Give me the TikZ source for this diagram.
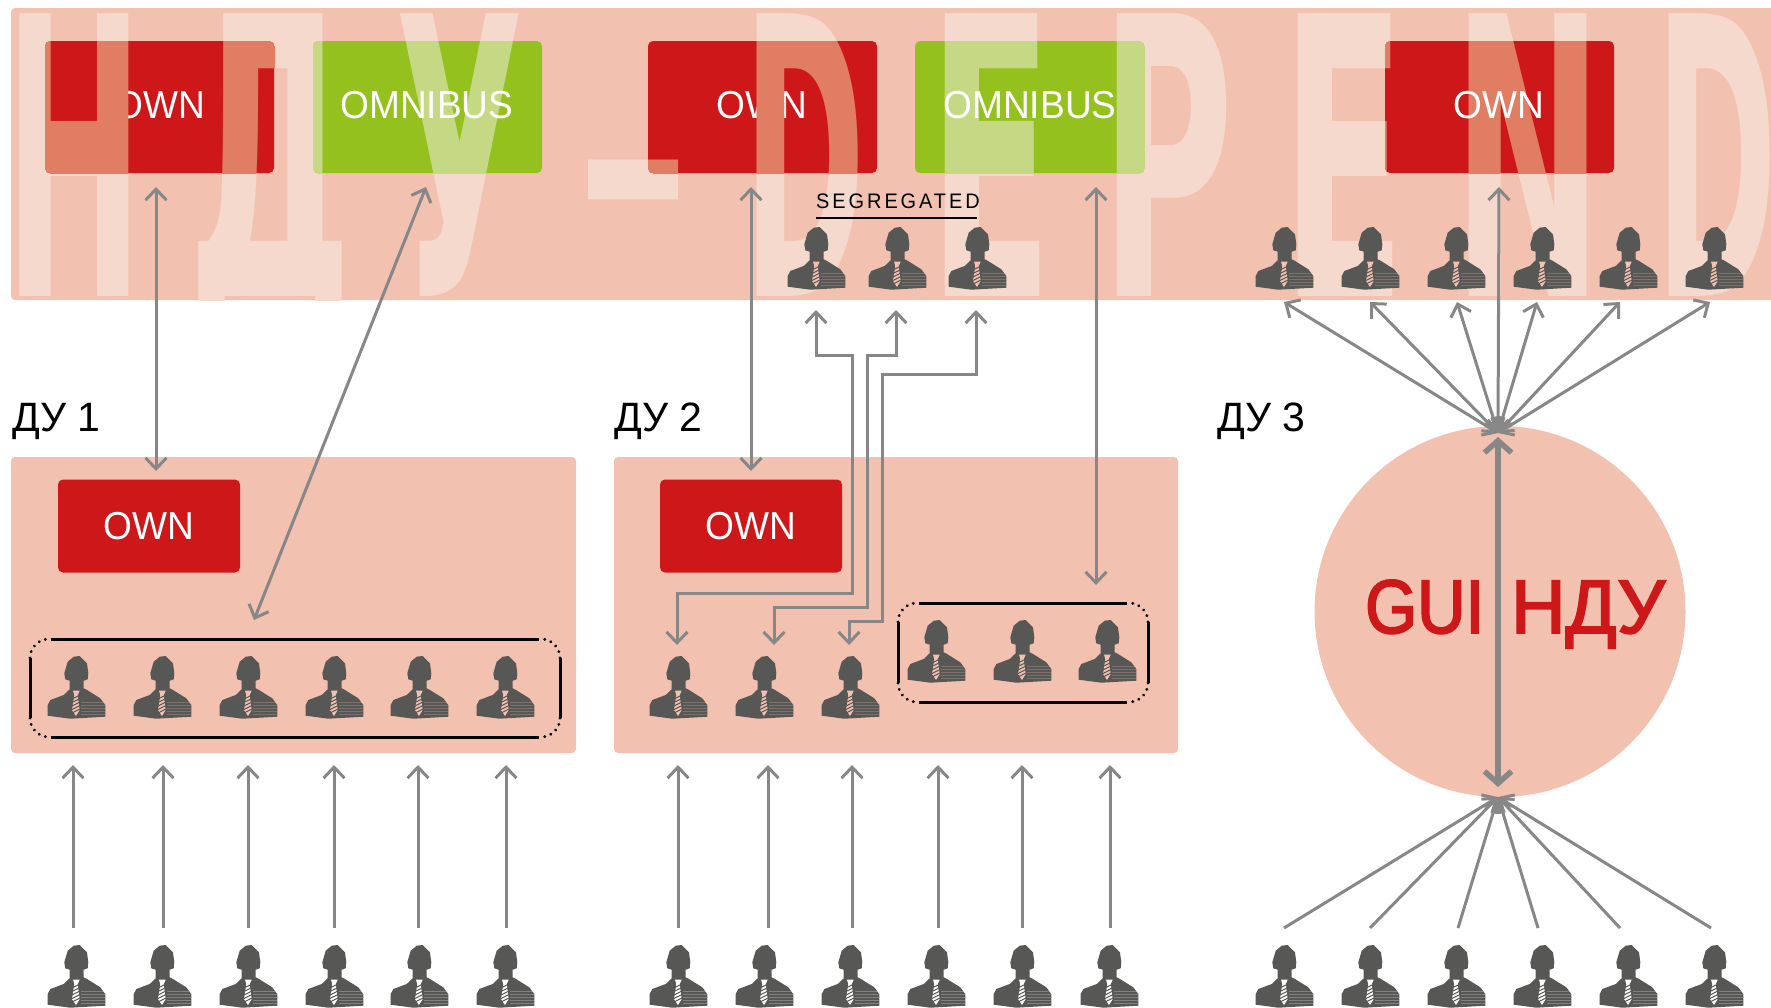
\documentclass[tikz,border=0pt]{standalone}
\usepackage{fontspec}
\setmainfont[FakeStretch=0.95]{Liberation Sans}
\newfontfamily\guifont[FakeStretch=0.88,FakeBold=2.5]{Liberation Sans}
\newfontfamily\ndufont[FakeStretch=0.99,FakeBold=2.5]{Liberation Sans}
\newfontfamily\headfont{Liberation Sans}
\newfontfamily\markfont{DejaVu Sans Bold}
\usetikzlibrary{calc,arrows.meta}
\pgfdeclarelayer{fondo}
\pgfsetlayers{fondo,main}
\definecolor{panelc}{HTML}{F2C1B0}
\definecolor{letterc}{HTML}{F6D9CD}
\definecolor{redc}{HTML}{CD1719}
\definecolor{greenc}{HTML}{95C11F}
\definecolor{redover}{HTML}{E07D63}
\definecolor{greenover}{HTML}{C5D985}
\definecolor{arrowc}{HTML}{878787}
\definecolor{darkc}{HTML}{575756}
\tikzstyle{box}=[draw=none,text=white,rounded corners=5pt,inner sep=0pt,font=\fontsize{39}{39}\selectfont]
\tikzstyle{arrow}=[arrowc,line width=3pt]
\tikzstyle{both}=[arrow,{Straight Barb[length=11pt,width=21pt]}-{Straight Barb[length=11pt,width=21pt]}]
\tikzstyle{one}=[arrow,-{Straight Barb[length=11pt,width=21pt]}]
\tikzstyle{heading}=[anchor=base west,inner sep=0pt,font=\headfont\fontsize{41}{41}\selectfont]
\tikzstyle{frameline}=[black,line width=3pt]
\tikzstyle{framedots}=[black,line width=3.1pt,line cap=round,dash pattern=on 0.1pt off 6.4pt]
\tikzset{
	person/.pic={
		\fill [darkc] (-8.3,5.7)--(-2.3,0.7)--(3.7,0)--(11,7.3)--(12.3,17.3)--(11.7,23.3)--(7.7,24.7)--(7.7,32.3)--(11,34)--(24.3,42.3)--(29.3,49)--(29.3,60.7)--(-5.7,62.7)--(-28.3,59.7)--(-28.3,49)--(-25.7,44)--(-12.3,39)--(-6.3,33.3)--(-6.3,24.7)--(-10.7,23.3)--(-11.7,17.3)--cycle;
		\foreach \s in {46,49,52,55,58}
			\draw [#1,line width=0.3pt,opacity=0.25] (5,\s)--(29,\s);
		\fill [#1] (-3,34.7)--(3.7,34.7)--(1.7,39)--(3.7,54)--(0,60)--(-4,54)--(-1.7,39)--cycle;
		\foreach \s in {41,44.5,48,51.5,55}
			\draw [darkc,line width=1pt] (-4,\s+2)--(4,\s-2);
	}
}
% big letters of the band: letter/left/xscale/size/base
\newcommand{\groupall}{Н/4/.43/388/296,Д/187/.48/388/296,У/395/.43/388/296,-/572/1.05/280/260,D/743/.38/388/296,E/928/.47/388/296,P/1100/.47/388/296,E/1281/.47/388/296,N/1452/.465/388/296,D/1655/.38/388/296}
\newcommand{\groupa}{Н/4/.43/388/296,Д/187/.48/388/296}
\newcommand{\groupb}{Д/187/.48/388/296,У/395/.43/388/296}
\newcommand{\groupc}{-/572/1.05/280/260,D/743/.38/388/296}
\newcommand{\groupd}{E/928/.47/388/296,P/1100/.47/388/296}
\newcommand{\groupe}{E/1281/.47/388/296,N/1452/.465/388/296}
\newcommand{\bandletters}[2]{
	\foreach \l/\xa/\sc/\em/\yb in #2
		\node [anchor=base west,inner sep=0pt,transform shape,xscale=\sc,text=#1,font=\markfont\fontsize{\em}{\em}\selectfont] (m\xa) at (\xa,\yb) {\l};
}
\newcommand{\boxletters}[3]{
	\begin{scope}
		\clip [rounded corners=5pt] (#1.north west) rectangle (#1.south east);
		\bandletters{#2}{#3}
	\end{scope}
}

\begin{document}
\begin{tikzpicture}[x=1pt,y=-1pt]
		\useasboundingbox (0,0) rectangle (1771,1007);
		\begin{pgfonlayer}{fondo}
			\fill [panelc,rounded corners=4pt] (11,8) rectangle (1800,300);
			\fill [panelc,rounded corners=4pt] (11,457) rectangle (576,753);
			\fill [panelc,rounded corners=4pt] (614,457) rectangle (1178,753);
		\end{pgfonlayer}
		\begin{scope}
			\clip (11,8) rectangle (1771,300);
			\bandletters{letterc}{\groupall}
		\end{scope}

		% boxes of the band
		\node [box,fill=redc,minimum width=229pt,minimum height=132pt] (own1) at (159.5,107) {};
		\node [box,fill=greenc,minimum width=229pt,minimum height=132pt] (omni1) at (427.5,107) {};
		\node [box,fill=redc,minimum width=229pt,minimum height=132pt] (own2) at (762.5,107) {};
		\node [box,fill=greenc,minimum width=229pt,minimum height=132pt] (omni2) at (1029.5,107) {};
		\node [box,fill=redc,minimum width=229pt,minimum height=132pt] (own3) at (1499.5,107) {};
		\node [box] (t1) at (160,105.5) {OWN};
		\node [box] (t2) at (762,105.5) {OWN};
		\boxletters{own1}{redover}{\groupa}
		\boxletters{omni1}{greenover}{\groupb}
		\boxletters{own2}{redover}{\groupc}
		\boxletters{omni2}{greenover}{\groupd}
		\boxletters{own3}{redover}{\groupe}
		\node [box] (t3) at (427,105.5) {OMNIBUS};
		\node [box] (t4) at (1030,105.5) {OMNIBUS};
		\node [box] (t5) at (1499,105.5) {OWN};

		% segregated
		\node [anchor=base west,inner sep=0pt,font=\fontsize{21}{21}\selectfont\addfontfeature{LetterSpace=14}] (seg) at (816,208) {SEGREGATED};
		\coordinate (sega) at (816,218);
		\coordinate (segb) at (977,218);
		\draw [black,line width=1.6pt] (sega)--(segb);
		\foreach \x in {816,897,977}
			\pic (ps\x) at (\x,227) {person=panelc};
		\foreach \x in {1284,1370,1456,1542,1628,1714}
			\pic (pt\x) at (\x,227) {person=panelc};

		% lower panels
		\node [heading] (du1) at (12,431) {ДУ 1};
		\node [heading] (du2) at (614,431) {ДУ 2};
		\node [heading] (du3) at (1217,431) {ДУ 3};
		\node [box,fill=redc,minimum width=182pt,minimum height=93pt] (own4) at (149,526) {OWN};
		\node [box,fill=redc,minimum width=182pt,minimum height=93pt] (own5) at (751,526) {OWN};
		\foreach \x in {76,162,248,334,419,505}
			\pic (pa\x) at (\x,656) {person=panelc};
		\foreach \x in {678,764,850}
			\pic (pb\x) at (\x,656) {person=panelc};
		\foreach \x in {936,1022,1107}
			\pic (pc\x) at (\x,620) {person=panelc};

		% frames
		\foreach \xa/\xb/\ya/\yb in {30/560/639/737,898/1148/603/702}{
			\draw [frameline] (\xa+21,\ya)--(\xb-21,\ya);
			\draw [frameline] (\xa+21,\yb)--(\xb-21,\yb);
			\draw [frameline] (\xa,\ya+19)--(\xa,\yb-19);
			\draw [frameline] (\xb,\ya+19)--(\xb,\yb-19);
			\draw [framedots] (\xa,\ya+19) arc (180:90:19 and -19);
			\draw [framedots] (\xb,\ya+19) arc (0:90:19 and -19);
			\draw [framedots] (\xa,\yb-19) arc (180:270:19 and -19);
			\draw [framedots] (\xb,\yb-19) arc (0:-90:19 and -19);
		}

		% circle
		\node [circle,fill=panelc,minimum size=371pt,inner sep=0pt] (hub) at (1500,611.5) {};
		\node [anchor=base west,inner sep=0pt,text=redc,font=\guifont\fontsize{76}{76}\selectfont] (gui) at (1365,633) {GUI};
		\node [anchor=base west,inner sep=0pt,text=redc,font=\ndufont\fontsize{76}{76}\selectfont] (ndu) at (1511,633) {НДУ};

		% bottom row
		\foreach \x in {76,162,248,334,419,505,678,764,850,936,1022,1109,1284,1370,1456,1542,1628,1714}
			\pic (pd\x) at (\x,945) {person=white};

		% arrows between the band and the panels
		\coordinate (aa) at (156,187);
		\coordinate (ab) at (156,471);
		\coordinate (ba) at (426,187);
		\coordinate (bb) at (254,620);
		\coordinate (ca) at (751,187);
		\coordinate (cb) at (751,471);
		\coordinate (da) at (1096,187);
		\coordinate (db) at (1096,585);
		\draw [both] (aa)--(ab);
		\draw [both] (ba)--(bb);
		\draw [both] (ca)--(cb);
		\draw [both] (da)--(db);

		\coordinate (ea) at (816,310);
		\coordinate (eb) at (677,645);
		\coordinate (fa) at (896,310);
		\coordinate (fb) at (774,645);
		\coordinate (ga) at (976,310);
		\coordinate (gb) at (849,645);
		\draw [both] (ea)--(816,355)--(852,355)--(852,593)--(677,593)--(eb);
		\draw [both] (fa)--(896,355)--(867,355)--(867,607)--(774,607)--(fb);
		\draw [both] (ga)--(976,374)--(882,374)--(882,621)--(849,621)--(gb);

		% arrows from the bottom row
		\foreach \x in {73,163,248,334,418,506,678,768,852,938,1022,1110}{
			\coordinate (ua\x) at (\x,928);
			\coordinate (ub\x) at (\x,765);
			\draw [one] (ua\x)--(ub\x);
		}

		% fans of the circle
		\coordinate (fant) at (1498,433);
		\coordinate (fanb) at (1498,797);
		\foreach \x in {1284,1370,1457,1537,1620,1710}{
			\coordinate (ft\x) at (\x,302);
			\draw [both] (fant)--(ft\x);
		}
		\foreach \x in {1284,1370,1458,1538,1620,1711}{
			\coordinate (fb\x) at (\x,928);
			\draw [one] (fb\x)--(fanb);
		}
		\coordinate (oa) at (1499,187);
		\draw [both] (fant)--(oa);
		\coordinate (ha) at (1498,437);
		\coordinate (hb) at (1498,787);
		\draw [arrowc,line width=5.5pt,{Straight Barb[length=12pt,width=27pt]}-{Straight Barb[length=12pt,width=27pt]}] (ha)--(hb);
\end{tikzpicture}
\end{document}
